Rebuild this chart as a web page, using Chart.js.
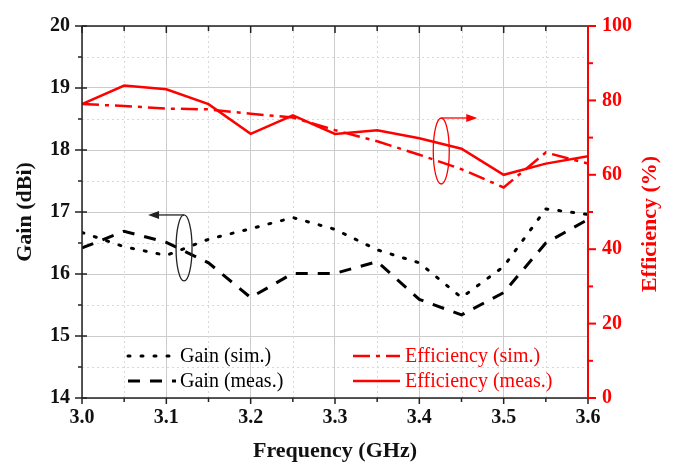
<!DOCTYPE html>
<html>
<head>
<meta charset="utf-8">
<script src="https://cdn.jsdelivr.net/npm/chart.js@4.4.0/dist/chart.umd.min.js"></script>
<style>
  html, body { margin: 0; padding: 0; background: #fff; }
</style>
</head>
<body>
<canvas id="chart" width="684" height="471"></canvas>
<script>
// data
const freq = [3.0, 3.05, 3.1, 3.15, 3.2, 3.25, 3.3, 3.35, 3.4, 3.45, 3.5, 3.55, 3.6];
const gainSim = [16.67, 16.44, 16.3, 16.56, 16.73, 16.91, 16.72, 16.39, 16.18, 15.62, 16.12, 17.05, 16.96];
const gainMeas = [16.42, 16.69, 16.51, 16.18, 15.62, 16.01, 16.01, 16.2, 15.59, 15.34, 15.7, 16.5, 16.88];
const effSim = [79, 78.5, 77.8, 77.6, 76.4, 75.4, 72, 69, 65.4, 61.5, 56.6, 66, 63];
const effMeas = [79, 84, 83, 79, 71, 76, 71, 72, 69.8, 67, 60, 63, 65];

const xMinor = [3.05, 3.15, 3.25, 3.35, 3.45, 3.55];
const gainMinor = [14.5, 15.5, 16.5, 17.5, 18.5, 19.5];
const effMinor = [10, 30, 50, 70, 90];

const RED = "#ff0000";
const SERIF = "'Liberation Serif', 'Times New Roman', serif";

const pts = (arr) => freq.map((f, i) => ({ x: f, y: arr[i] }));

const datasets = [
  { label: "Gain (sim.)", data: pts(gainSim), yAxisID: "y", borderColor: "#000", borderWidth: 3,
    borderDash: [2, 11], borderCapStyle: "round", col: 0, row: 0 },
  { label: "Gain (meas.)", data: pts(gainMeas), yAxisID: "y", borderColor: "#000", borderWidth: 3,
    borderDash: [12, 10], col: 0, row: 1 },
  { label: "Efficiency (sim.)", data: pts(effSim), yAxisID: "y2", borderColor: RED, borderWidth: 2.5,
    borderDash: [17, 6, 4, 6], col: 1, row: 0 },
  { label: "Efficiency (meas.)", data: pts(effMeas), yAxisID: "y2", borderColor: RED, borderWidth: 2.5,
    borderDash: [], col: 1, row: 1 },
];
datasets.forEach(d => { d.pointRadius = 0; d.tension = 0; d.fill = false; });

function line(ctx, x1, y1, x2, y2) {
  ctx.beginPath(); ctx.moveTo(x1, y1); ctx.lineTo(x2, y2); ctx.stroke();
}

// minor grid, frame, ticks, annotations and legend
const decorations = {
  id: "decorations",
  beforeDatasetsDraw(chart) {
    const { ctx, chartArea: a, scales: { x, y } } = chart;
    ctx.save();
    ctx.strokeStyle = "#d8d8d8";
    ctx.lineWidth = 1;
    ctx.setLineDash([2, 3]);
    xMinor.forEach(v => { const px = Math.round(x.getPixelForValue(v)) + 0.5; line(ctx, px, a.top, px, a.bottom); });
    gainMinor.forEach(v => { const py = Math.round(y.getPixelForValue(v)) + 0.5; line(ctx, a.left, py, a.right, py); });
    ctx.restore();
  },
  afterDraw(chart) {
    const { ctx, chartArea: a, scales: { x, y, y2 } } = chart;
    ctx.save();
    // frame
    ctx.strokeStyle = "#222";
    ctx.lineWidth = 1.5;
    line(ctx, a.left, a.top, a.right, a.top);
    line(ctx, a.left, a.bottom, a.right, a.bottom);
    line(ctx, a.left, a.top, a.left, a.bottom);
    // x ticks (bottom outward, top inward)
    x.ticks.forEach(t => {
      const px = x.getPixelForValue(t.value);
      line(ctx, px, a.bottom, px, a.bottom + 6);
      line(ctx, px, a.top, px, a.top + 7);
    });
    xMinor.forEach(v => {
      const px = x.getPixelForValue(v);
      line(ctx, px, a.bottom, px, a.bottom + 4);
      line(ctx, px, a.top, px, a.top + 5);
    });
    // left ticks
    y.ticks.forEach(t => { const py = y.getPixelForValue(t.value); line(ctx, a.left - 7, py, a.left + 5, py); });
    gainMinor.forEach(v => { const py = y.getPixelForValue(v); line(ctx, a.left - 4, py, a.left, py); });
    // right axis
    ctx.strokeStyle = RED;
    ctx.lineWidth = 2;
    line(ctx, a.right, a.top, a.right, a.bottom);
    y2.ticks.forEach(t => { const py = y2.getPixelForValue(t.value); line(ctx, a.right, py, a.right + 8, py); });
    effMinor.forEach(v => { const py = y2.getPixelForValue(v); line(ctx, a.right, py, a.right + 5, py); });

    // right axis title, reading bottom to top
    ctx.save();
    ctx.translate(650, (a.top + a.bottom) / 2 + 12);
    ctx.rotate(-Math.PI / 2);
    ctx.fillStyle = RED;
    ctx.font = "bold 22px " + SERIF;
    ctx.textAlign = "center";
    ctx.textBaseline = "middle";
    ctx.fillText("Efficiency (%)", 0, 0);
    ctx.restore();

    // annotation ellipses with arrows
    const ann = (cx, cy, dir, color) => {
      ctx.strokeStyle = color;
      ctx.fillStyle = color;
      ctx.lineWidth = 1.3;
      ctx.setLineDash([]);
      ctx.beginPath();
      ctx.ellipse(cx, cy, 8, 33, 0, 0, Math.PI * 2);
      ctx.stroke();
      const ty = cy - 33;
      const tip = cx + dir * 36;
      line(ctx, cx, ty, tip - dir * 8, ty);
      ctx.beginPath();
      ctx.moveTo(tip, ty);
      ctx.lineTo(tip - dir * 11, ty - 4);
      ctx.lineTo(tip - dir * 11, ty + 4);
      ctx.closePath();
      ctx.fill();
    };
    ann(x.getPixelForValue(3.121), y.getPixelForValue(16.42), -1, "#222");
    ann(x.getPixelForValue(3.426), y2.getPixelForValue(66.4), 1, RED);

    // legend
    ctx.font = "20px " + SERIF;
    ctx.textBaseline = "middle";
    ctx.textAlign = "left";
    chart.data.datasets.forEach(d => {
      const sx = d.col === 0 ? 128 : 353;
      const ex = d.col === 0 ? 176 : 400;
      const tx = d.col === 0 ? 180 : 405;
      const ly = d.row === 0 ? 356 : 381;
      ctx.strokeStyle = d.borderColor;
      ctx.lineWidth = d.borderWidth;
      ctx.lineCap = d.borderCapStyle || "butt";
      ctx.setLineDash(d.borderDash);
      line(ctx, sx, ly, ex, ly);
      ctx.setLineDash([]);
      ctx.fillStyle = d.borderColor;
      ctx.fillText(d.label, tx, ly + 1);
    });
    ctx.restore();
  }
};

const tickFont = { family: SERIF, size: 20, weight: "bold" };

new Chart(document.getElementById("chart"), {
  type: "line",
  data: { datasets },
  plugins: [decorations],
  options: {
    responsive: false,
    animation: false,
    layout: { padding: { top: 16, left: 0, right: 0, bottom: 0 } },
    plugins: { legend: { display: false }, tooltip: { enabled: false } },
    scales: {
      x: {
        type: "linear", min: 3.0, max: 3.6,
        ticks: { stepSize: 0.1, color: "#111", font: tickFont, padding: 8, maxRotation: 0,
                 callback: v => Number(v).toFixed(1) },
        grid: { color: "#cccccc", lineWidth: 1, drawTicks: false },
        border: { display: false },
        title: { display: true, text: "Frequency (GHz)", color: "#111",
                 font: { family: SERIF, size: 22, weight: "bold" }, padding: { top: 0, bottom: 6 } },
        afterFit: s => { s.height = 73; }
      },
      y: {
        position: "left", min: 14, max: 20,
        ticks: { stepSize: 1, color: "#111", font: tickFont, padding: 12 },
        grid: { color: "#cccccc", lineWidth: 1, drawTicks: false },
        border: { display: false },
        title: { display: true, text: "Gain (dBi)", color: "#111",
                 font: { family: SERIF, size: 22, weight: "bold" }, padding: { top: 12, bottom: 0 } },
        afterFit: s => { s.width = 82; }
      },
      y2: {
        position: "right", min: 0, max: 100,
        ticks: { stepSize: 20, color: RED, font: tickFont, padding: 14 },
        grid: { drawOnChartArea: false, drawTicks: false },
        border: { display: false },
        afterFit: s => { s.width = 96; }
      }
    }
  }
});
</script>
</body>
</html>
